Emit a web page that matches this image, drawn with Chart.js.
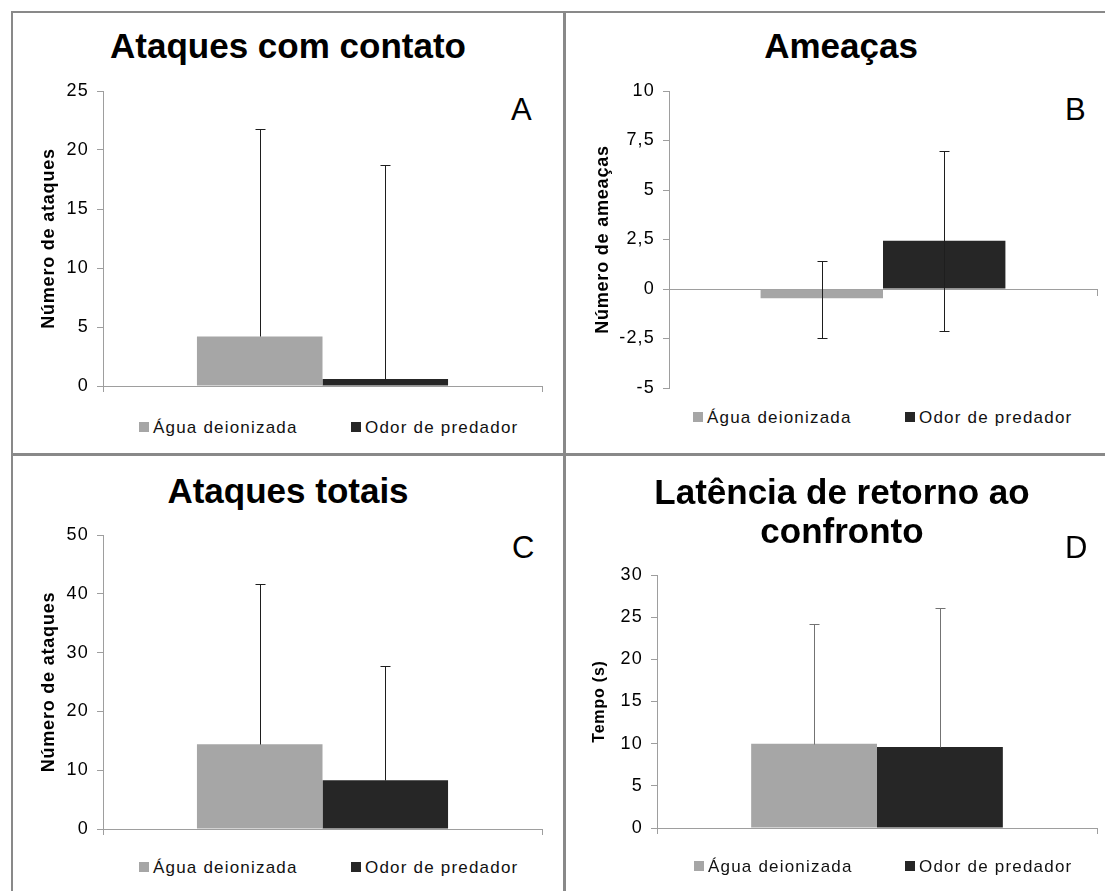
<!DOCTYPE html>
<html><head><meta charset="utf-8">
<script src="https://cdn.jsdelivr.net/npm/chart.js@4.4.1/dist/chart.umd.min.js"></script>
<style>
html,body{margin:0;padding:0;background:#fff;}
#page{position:relative;width:1105px;height:891px;overflow:hidden;font-family:"Liberation Sans",Arial,sans-serif;color:#000;background:#fff;}
.line{position:absolute;background:#898989;}
.box{position:absolute;}
.title{position:absolute;font-weight:bold;font-size:35px;line-height:39px;text-align:center;white-space:nowrap;width:600px;}
.letter{position:absolute;font-size:31px;line-height:31px;white-space:nowrap;}
.leg{position:absolute;font-size:17px;line-height:17px;letter-spacing:1.2px;white-space:nowrap;color:#111;}
.sw{position:absolute;width:10px;height:10px;}
</style></head><body><div id="page"></div>
<script>
// ---------- data ----------
const categories = [''];
const seriesNames = ['Água deionizada', 'Odor de predador'];

const contatoMeans = [4.2, 0.6];
const contatoErrHigh = [21.8, 18.7];

const ameacasMeans = [-0.47, 2.44];
const ameacasErrHigh = [1.4, 6.95];
const ameacasErrLow = [-2.45, -2.1];

const totaisMeans = [14.4, 8.3];
const totaisErrHigh = [41.6, 27.8];

const latenciaMeans = [10.0, 9.6];
const latenciaErrHigh = [24.2, 26.1];

const ticksContato = ['0', '5', '10', '15', '20', '25'];
const ticksAmeacas = ['-5', '-2,5', '0', '2,5', '5', '7,5', '10'];
const ticksTotais = ['0', '10', '20', '30', '40', '50'];
const ticksLatencia = ['0', '5', '10', '15', '20', '25', '30'];

// ---------- styles / layout ----------
const FONT = '"Liberation Sans", Arial, sans-serif';
const seriesColors = ['#a6a6a6', '#262626'];
const axisColor = '#9e9e9e';
const PAD = 21;

const panels = [
  { letter: 'A', title: ['Ataques com contato'], yTitle: 'Número de ataques',
    means: contatoMeans, errHigh: contatoErrHigh, errLow: null, ticks: ticksContato,
    box: {left: 23, top: 70, w: 525, h: 337}, xAtZero: false, yTitlePad: 14.8, yTitleSize: 18,
    errColor: '#1e1e1e', titleCx: 288, titleTop: 26, letterLeft: 511, letterTop: 94.3,
    leg: {x1: 139, x2: 351, base: 433} },
  { letter: 'B', title: ['Ameaças'], yTitle: 'Número de ameaças',
    means: ameacasMeans, errHigh: ameacasErrHigh, errLow: ameacasErrLow, ticks: ticksAmeacas,
    box: {left: 589, top: 70, w: 514, h: 339}, xAtZero: true, yTitlePad: 3.2, yTitleSize: 18,
    errColor: '#1e1e1e', titleCx: 841, titleTop: 26, letterLeft: 1065, letterTop: 94.3,
    leg: {x1: 693, x2: 905, base: 423} },
  { letter: 'C', title: ['Ataques totais'], yTitle: 'Número de ataques',
    means: totaisMeans, errHigh: totaisErrHigh, errLow: null, ticks: ticksTotais,
    box: {left: 23, top: 514, w: 525, h: 336}, xAtZero: false, yTitlePad: 14.8, yTitleSize: 18,
    errColor: '#1e1e1e', titleCx: 288, titleTop: 471, letterLeft: 512, letterTop: 532.3,
    leg: {x1: 139, x2: 351, base: 873} },
  { letter: 'D', title: ['Latência de retorno ao', 'confronto'], yTitle: 'Tempo (s)',
    means: latenciaMeans, errHigh: latenciaErrHigh, errLow: null, ticks: ticksLatencia,
    box: {left: 577, top: 554, w: 526, h: 295}, xAtZero: false, yTitlePad: 13.4, yTitleSize: 16,
    errColor: '#737373', titleCx: 842, titleTop: 472, letterLeft: 1065, letterTop: 532.3,
    leg: {x1: 694, x2: 905, base: 872} }
];

const page = document.getElementById('page');
function addDiv(cls, css, text) {
  const d = document.createElement('div');
  d.className = cls;
  Object.assign(d.style, css);
  if (text !== undefined) d.textContent = text;
  page.appendChild(d);
  return d;
}

// frame lines
addDiv('line', {left: '11px', top: '11px', width: '2px', height: '880px'});
addDiv('line', {left: '11px', top: '11px', width: '1094px', height: '2px'});
addDiv('line', {left: '563px', top: '11px', width: '3px', height: '880px'});
addDiv('line', {left: '11px', top: '453px', width: '1094px', height: '3px'});

const TICK_LS = '1.2px';
const TITLE_LS = '0.8px';
const spacingPlugin = {
  id: 'spacing',
  beforeDraw(chart) {
    const ctx = chart.ctx;
    ctx.letterSpacing = TICK_LS;
    const ys = chart.scales.y;
    if (ys && !ys._lsPatched) {
      const orig = ys.drawTitle;
      ys.drawTitle = function () {
        const prev = ctx.letterSpacing;
        ctx.letterSpacing = TITLE_LS;
        orig.apply(this, arguments);
        ctx.letterSpacing = prev;
      };
      ys._lsPatched = true;
    }
  }
};

const errorBarPlugin = {
  id: 'errorBars',
  afterDatasetsDraw(chart, args, opts) {
    const ctx = chart.ctx;
    const y = chart.scales.y;
    ctx.save();
    ctx.strokeStyle = opts.color;
    ctx.lineWidth = 1;
    chart.data.datasets.forEach((ds, di) => {
      const meta = chart.getDatasetMeta(di);
      meta.data.forEach((bar, i) => {
        const x = Math.round(bar.x) + 0.5;
        const hasLow = Array.isArray(ds.errLow);
        const lo = hasLow ? ds.errLow[i] : ds.data[i];
        const yHi = Math.round(y.getPixelForValue(ds.errHigh[i])) + 0.5;
        const yLo = Math.round(y.getPixelForValue(lo)) + 0.5;
        ctx.beginPath();
        ctx.moveTo(x, yLo); ctx.lineTo(x, yHi);
        ctx.moveTo(x - 5, yHi); ctx.lineTo(x + 5, yHi);
        if (hasLow) { ctx.moveTo(x - 5, yLo); ctx.lineTo(x + 5, yLo); }
        ctx.stroke();
      });
    });
    ctx.restore();
  }
};

const toNum = s => parseFloat(s.replace(',', '.'));

panels.forEach(p => {
  // title
  const t = addDiv('title', {left: (p.titleCx - 300) + 'px', top: p.titleTop + 'px'});
  p.title.forEach((line, k) => {
    if (k) t.appendChild(document.createElement('br'));
    t.appendChild(document.createTextNode(line));
  });
  // letter
  addDiv('letter', {left: p.letterLeft + 'px', top: p.letterTop + 'px'}, p.letter);
  // legend
  [p.leg.x1, p.leg.x2].forEach((x, i) => {
    addDiv('sw', {left: x + 'px', top: (p.leg.base - 11) + 'px', background: seriesColors[i]});
    addDiv('leg', {left: (x + 14) + 'px', top: (p.leg.base - 14.4) + 'px'}, seriesNames[i]);
  });

  // chart
  const wrap = addDiv('box', {left: p.box.left + 'px', top: p.box.top + 'px', width: p.box.w + 'px', height: p.box.h + 'px'});
  const cv = document.createElement('canvas');
  wrap.appendChild(cv);

  const tickVals = p.ticks.map(toNum);
  const yMin = tickVals[0], yMax = tickVals[tickVals.length - 1];
  const step = tickVals[1] - tickVals[0];

  new Chart(cv, {
    type: 'bar',
    data: {
      labels: categories,
      datasets: seriesNames.map((name, i) => ({
        label: name,
        data: [p.means[i]],
        errHigh: [p.errHigh[i]],
        errLow: p.errLow ? [p.errLow[i]] : null,
        backgroundColor: seriesColors[i],
        borderWidth: 0,
        barPercentage: 1,
        categoryPercentage: 0.572
      }))
    },
    options: {
      responsive: true,
      maintainAspectRatio: false,
      animation: false,
      events: [],
      layout: {padding: {top: PAD, right: 6, bottom: p.xAtZero ? PAD : PAD - 10, left: 0}},
      plugins: {
        legend: {display: false},
        title: {display: false},
        tooltip: {enabled: false},
        errorBars: {color: p.errColor}
      },
      scales: {
        x: {
          type: 'category',
          offset: true,
          position: p.xAtZero ? {y: 0} : 'bottom',
          grid: {display: true, drawOnChartArea: false, drawTicks: true, tickLength: 6, color: axisColor, offset: true},
          border: {display: true, color: axisColor, width: 1},
          ticks: {display: false},
          afterFit: s => { s.height = 10; }
        },
        y: {
          min: yMin,
          max: yMax,
          ticks: {
            stepSize: step,
            padding: 8,
            color: '#000',
            font: {family: FONT, size: 18},
            callback: (v, i) => p.ticks[i]
          },
          grid: {drawOnChartArea: false, drawTicks: true, tickLength: 6, color: axisColor},
          border: {display: true, color: axisColor, width: 1},
          title: {
            display: true,
            text: p.yTitle,
            color: '#000',
            font: {family: FONT, size: p.yTitleSize, weight: 'bold'},
            padding: {top: p.yTitlePad, bottom: 0}
          },
          afterFit: s => { s.width = 80; }
        }
      }
    },
    plugins: [spacingPlugin, errorBarPlugin]
  });
});
</script>
</body></html>
